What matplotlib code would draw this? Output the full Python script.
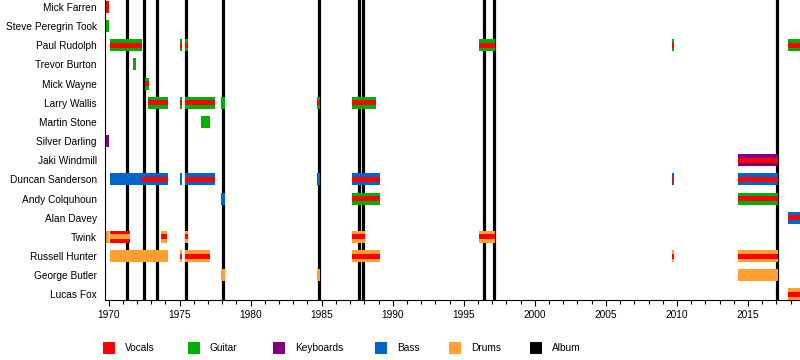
import matplotlib.pyplot as plt
from matplotlib.patches import Rectangle

plt.rcParams['font.family'] = ['Liberation Sans', 'DejaVu Sans']

members = ["Mick Farren", "Steve Peregrin Took", "Paul Rudolph", "Trevor Burton",
           "Mick Wayne", "Larry Wallis", "Martin Stone", "Silver Darling",
           "Jaki Windmill", "Duncan Sanderson", "Andy Colquhoun", "Alan Davey",
           "Twink", "Russell Hunter", "George Butler", "Lucas Fox"]

roles = ["Vocals", "Guitar", "Keyboards", "Bass", "Drums", "Album"]
colors = {"Vocals": "#ff0000", "Guitar": "#00b000", "Keyboards": "#800080",
          "Bass": "#0066cc", "Drums": "#ffa030", "Album": "#000000"}

# one entry per stint: member, start, end, main role, stripe role
seg_member = ["Mick Farren", "Steve Peregrin Took",
              "Paul Rudolph", "Paul Rudolph", "Paul Rudolph", "Paul Rudolph", "Paul Rudolph", "Paul Rudolph",
              "Trevor Burton", "Mick Wayne",
              "Larry Wallis", "Larry Wallis", "Larry Wallis", "Larry Wallis", "Larry Wallis", "Larry Wallis",
              "Martin Stone", "Silver Darling", "Jaki Windmill",
              "Duncan Sanderson", "Duncan Sanderson", "Duncan Sanderson", "Duncan Sanderson",
              "Duncan Sanderson", "Duncan Sanderson", "Duncan Sanderson", "Duncan Sanderson",
              "Andy Colquhoun", "Andy Colquhoun", "Andy Colquhoun", "Alan Davey",
              "Twink", "Twink", "Twink", "Twink", "Twink", "Twink",
              "Russell Hunter", "Russell Hunter", "Russell Hunter", "Russell Hunter", "Russell Hunter", "Russell Hunter",
              "George Butler", "George Butler", "George Butler", "Lucas Fox"]
seg_start = [1969.75, 1969.75,
             1970.1, 1975.03, 1975.4, 1996.07, 2009.67, 2017.8,
             1971.7, 1972.57,
             1972.78, 1975.03, 1975.4, 1977.92, 1984.7, 1987.13,
             1976.5, 1969.75, 2014.3,
             1970.1, 1972.35, 1975.03, 1975.4, 1984.7, 1987.13, 2009.67, 2014.3,
             1977.92, 1987.13, 2014.3, 2017.8,
             1969.75, 1970.1, 1973.67, 1975.4, 1987.13, 1996.07,
             1970.1, 1975.03, 1975.4, 1987.13, 2009.67, 2014.3,
             1977.92, 1984.7, 2014.3, 2017.8]
seg_end = [1970.0, 1970.0,
           1972.35, 1975.17, 1975.6, 1997.2, 2009.8, 2019.0,
           1971.93, 1972.85,
           1974.19, 1975.17, 1977.5, 1978.22, 1984.9, 1988.8,
           1977.15, 1970.0, 2017.1,
           1972.35, 1974.19, 1975.17, 1977.5, 1984.9, 1989.1, 2009.8, 2017.1,
           1978.22, 1989.1, 2017.1, 2019.0,
           1970.0, 1971.5, 1974.1, 1975.57, 1988.05, 1997.2,
           1974.19, 1975.17, 1977.15, 1989.1, 2009.8, 2017.1,
           1978.22, 1984.9, 2017.1, 2019.0]
seg_main = ["Vocals", "Guitar",
            "Guitar", "Guitar", "Guitar", "Guitar", "Guitar", "Guitar",
            "Guitar", "Guitar",
            "Guitar", "Guitar", "Guitar", "Guitar", "Guitar", "Guitar",
            "Guitar", "Keyboards", "Keyboards",
            "Bass", "Bass", "Bass", "Bass", "Bass", "Bass", "Bass", "Bass",
            "Bass", "Guitar", "Guitar", "Bass",
            "Drums", "Vocals", "Drums", "Drums", "Drums", "Drums",
            "Drums", "Drums", "Drums", "Drums", "Drums", "Drums",
            "Drums", "Drums", "Drums", "Drums"]
seg_stripe = [None, None,
              "Vocals", "Vocals", "Vocals", "Vocals", "Vocals", "Vocals",
              None, "Vocals",
              "Vocals", "Vocals", "Vocals", None, "Vocals", "Vocals",
              None, None, "Vocals",
              None, "Vocals", None, "Vocals", None, "Vocals", "Vocals", "Vocals",
              None, "Vocals", "Vocals", "Vocals",
              None, "Drums", "Vocals", "Vocals", "Vocals", "Vocals",
              None, "Vocals", "Vocals", "Vocals", "Vocals", "Vocals",
              None, None, None, "Vocals"]

albums = [1971.32, 1972.5, 1973.43, 1975.45, 1978.08, 1984.8,
          1987.65, 1987.93, 1996.45, 1997.15, 2017.07]

fig = plt.figure(figsize=(8, 3.6), dpi=100)
ax = fig.add_axes([105 / 800, 60 / 360, 695 / 800, 300 / 360])

for yr in albums:
    ax.axvline(yr, color=colors["Album"], lw=2.3, zorder=1)

bar_h = 0.626
stripe_h = 0.26
for m, s, e, main, stripe in zip(seg_member, seg_start, seg_end, seg_main, seg_stripe):
    row = members.index(m)
    ax.barh(row, e - s, left=s, height=bar_h, color=colors[main], lw=0, zorder=2)
    if stripe:
        ax.barh(row, e - s, left=s, height=stripe_h, color=colors[stripe], lw=0, zorder=3)

ax.set_xlim(1969.75, 2018.66)
ax.set_ylim(15.29, -0.365)
ax.set_yticks(range(len(members)))
ax.set_yticklabels(members, fontsize=7.3)
ax.tick_params(axis='y', length=0, pad=6)
ax.set_xticks(range(1970, 2016, 5))
ax.set_xticks(range(1970, 2019), minor=True)
ax.tick_params(axis='x', which='major', length=4, width=0.8, labelsize=7.3, pad=3)
ax.tick_params(axis='x', which='minor', length=3, width=0.8)
ax.spines['top'].set_visible(False)
ax.spines['right'].set_visible(False)

legend_x = [103, 188, 273, 375, 449, 530]
for name, lx in zip(roles, legend_x):
    fig.add_artist(Rectangle((lx / 800, 6 / 360), 12 / 800, 12 / 360,
                             transform=fig.transFigure, color=colors[name], lw=0))
    fig.text((lx + 22) / 800, 12 / 360, name, fontsize=7.3, va='center')

plt.savefig("out.png", dpi=100)
